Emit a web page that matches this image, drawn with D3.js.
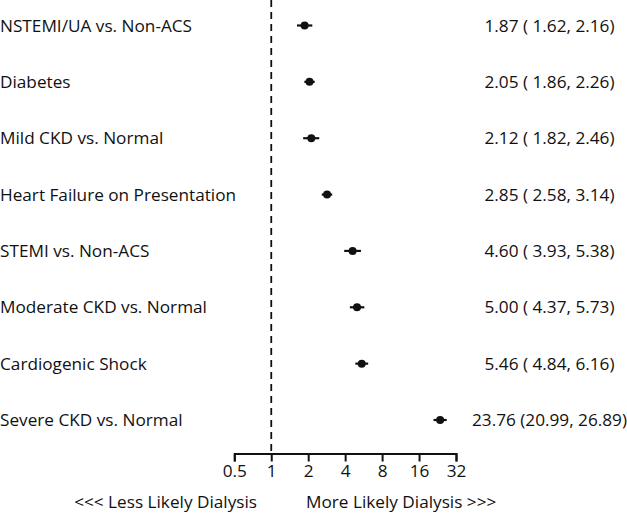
<!DOCTYPE html>
<html>
<head>
<meta charset="utf-8">
<script src="https://cdn.jsdelivr.net/npm/d3@7"></script>
<style>
  body { margin: 0; background: #fff; }
  svg text { font-family: "Open Sans", Lato, sans-serif; fill: #111; }
</style>
</head>
<body>
<div id="chart"></div>
<script>
// forest plot data, top row first
const labels = ['NSTEMI/UA vs. Non-ACS', 'Diabetes', 'Mild CKD vs. Normal', 'Heart Failure on Presentation',
    'STEMI vs. Non-ACS', 'Moderate CKD vs. Normal', 'Cardiogenic Shock', 'Severe CKD vs. Normal'];
const estimates = [1.87, 2.05, 2.12, 2.85, 4.60, 5.00, 5.46, 23.76];
const lower = [1.62, 1.86, 1.82, 2.58, 3.93, 4.37, 4.84, 20.99];
const upper = [2.16, 2.26, 2.46, 3.14, 5.38, 5.73, 6.16, 26.89];
const ticks = [0.5, 1, 2, 4, 8, 16, 32];
const leftNote = '<<< Less Likely Dialysis';
const rightNote = 'More Likely Dialysis >>>';

const width = 627, height = 513;
const fontSize = 17.2;

const rows = labels.map((l, i) => ({label: l, est: estimates[i], lo: lower[i], hi: upper[i]}));

const svg = d3.select('#chart')
    .append('svg')
    .attr('width', width)
    .attr('height', height);

// log2 horizontal scale
const x = d3.scaleLog().base(2)
    .domain([0.5, 32])
    .range([234.3, 456]);

const y = d3.scalePoint()
    .domain(d3.range(rows.length))
    .range([25.5, 420]);

const axisY = 453.5;

// reference line at 1
svg.append('line')
    .attr('x1', x(1)).attr('x2', x(1))
    .attr('y1', 0).attr('y2', axisY)
    .attr('stroke', '#111')
    .attr('stroke-width', 1.8)
    .attr('stroke-dasharray', '7,5');

// axis
const axis = svg.append('g')
    .attr('transform', `translate(0, ${axisY})`)
    .call(d3.axisBottom(x)
        .tickValues(ticks)
        .tickFormat(d => d)
        .tickSize(8)
        .tickPadding(3)
        .tickSizeOuter(8));
axis.select('.domain').attr('stroke', '#111').attr('stroke-width', 2);
axis.selectAll('.tick line').attr('stroke', '#111').attr('stroke-width', 2);
axis.selectAll('.tick text')
    .attr('font-size', fontSize)
    .attr('font-family', '"Open Sans", sans-serif')
    .attr('fill', '#111');

// labels on the left
svg.append('g')
    .selectAll('text')
    .data(rows)
    .join('text')
    .attr('x', 0)
    .attr('y', (d, i) => y(i))
    .attr('dy', '0.35em')
    .attr('font-size', fontSize)
    .text(d => d.label);

// confidence intervals
svg.append('g')
    .selectAll('line')
    .data(rows)
    .join('line')
    .attr('x1', d => x(d.lo))
    .attr('x2', d => x(d.hi))
    .attr('y1', (d, i) => y(i))
    .attr('y2', (d, i) => y(i))
    .attr('stroke', '#111')
    .attr('stroke-width', 2.2);

// point estimates
svg.append('g')
    .selectAll('circle')
    .data(rows)
    .join('circle')
    .attr('cx', d => x(d.est))
    .attr('cy', (d, i) => y(i))
    .attr('r', 4)
    .attr('fill', '#111');

// estimate text, centred column on the right
const f = d3.format('.2f');
const pad = v => (v < 10 ? ' ' : '') + f(v);
svg.append('g')
    .selectAll('text')
    .data(rows)
    .join('text')
    .attr('x', 549.5)
    .attr('y', (d, i) => y(i))
    .attr('dy', '0.35em')
    .attr('text-anchor', 'middle')
    .attr('font-size', fontSize)
    .text(d => `${f(d.est)} (${pad(d.lo)}, ${f(d.hi)})`);

// direction notes under the axis
svg.append('text')
    .attr('x', 257)
    .attr('y', 502)
    .attr('dy', '0.35em')
    .attr('text-anchor', 'end')
    .attr('font-size', fontSize)
    .text(leftNote);

svg.append('text')
    .attr('x', 306)
    .attr('y', 502)
    .attr('dy', '0.35em')
    .attr('font-size', fontSize)
    .text(rightNote);
</script>
</body>
</html>
